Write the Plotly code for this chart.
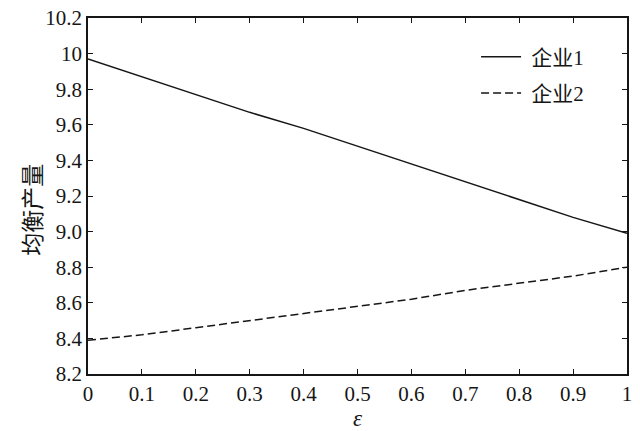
import plotly.graph_objects as go

eps = [0, 0.1, 0.2, 0.3, 0.4, 0.5, 0.6, 0.7, 0.8, 0.9, 1.0]
firm1 = [9.97, 9.87, 9.77, 9.67, 9.58, 9.48, 9.38, 9.28, 9.18, 9.08, 8.99]
firm2 = [8.39, 8.42, 8.46, 8.50, 8.54, 8.58, 8.62, 8.67, 8.71, 8.75, 8.80]
series_names = ["企业1", "企业2"]

xtick_vals = [0, 0.1, 0.2, 0.3, 0.4, 0.5, 0.6, 0.7, 0.8, 0.9, 1.0]
xtick_text = ["0", "0.1", "0.2", "0.3", "0.4", "0.5", "0.6", "0.7", "0.8", "0.9", "1"]
ytick_vals = [8.2, 8.4, 8.6, 8.8, 9.0, 9.2, 9.4, 9.6, 9.8, 10.0, 10.2]
ytick_text = ["8.2", "8.4", "8.6", "8.8", "9.0", "9.2", "9.4", "9.6", "9.8", "10", "10.2"]
x_title = "<i>ε</i>"
y_title = "均衡产量"

serif = "Liberation Serif, Times New Roman, serif"
cjk = "Noto Sans CJK SC"
ink = "#161616"

fig = go.Figure()
fig.add_trace(go.Scatter(x=eps, y=firm1, mode="lines", name=" " + series_names[0],
                         legendgroup="g1",
                         line=dict(color=ink, width=1.5, dash="solid")))
fig.add_trace(go.Scatter(x=eps, y=firm2, mode="lines", name=" " + series_names[1],
                         legendgroup="g2",
                         line=dict(color=ink, width=1.5, dash="8px,4px")))

axis_common = dict(showline=True, linecolor=ink, linewidth=1.5, mirror="ticks",
                   ticks="inside", ticklen=5, tickcolor=ink, tickwidth=1.2,
                   showgrid=False, zeroline=False, automargin=False,
                   tickfont=dict(family=serif, size=21, color=ink))

fig.update_layout(
    width=640, height=431,
    margin=dict(l=88, r=13, t=18, b=57),
    paper_bgcolor="white", plot_bgcolor="white",
    showlegend=True,
    legend=dict(x=0.72, y=0.948, xanchor="left", yanchor="top",
                bgcolor="rgba(0,0,0,0)", borderwidth=0,
                font=dict(family=serif + ", " + cjk, size=21, color=ink),
                itemwidth=40, tracegroupgap=6),
    xaxis=dict(range=[0, 1], tickvals=xtick_vals, ticktext=xtick_text, **axis_common),
    yaxis=dict(range=[8.2, 10.2], tickvals=ytick_vals, ticktext=ytick_text, **axis_common),
)
fig.add_annotation(xref="paper", yref="paper", x=0.5, y=-0.125, xanchor="center", yanchor="middle",
                   text=x_title, showarrow=False, font=dict(family=serif, size=23, color=ink))
fig.add_annotation(xref="paper", yref="paper", x=-0.106, y=0.461, xanchor="center", yanchor="middle",
                   text=y_title, textangle=-90, showarrow=False,
                   font=dict(family=cjk, size=23, color=ink))

fig.write_html("out.html", config={"displayModeBar": False})
with open("out.html", "r", encoding="utf-8") as f:
    html = f.read()
html = html.replace("<head>", "<head><style>html,body{margin:0;padding:0;}</style>", 1)
with open("out.html", "w", encoding="utf-8") as f:
    f.write(html)
